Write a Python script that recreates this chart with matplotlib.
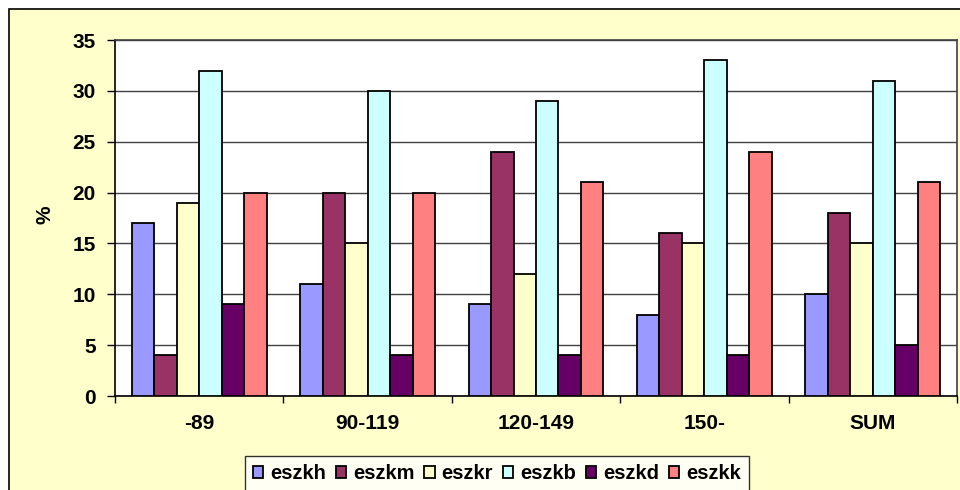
import matplotlib.pyplot as plt
import matplotlib.patches as mpatches
import numpy as np

plt.rcParams["font.family"] = ["Liberation Sans", "DejaVu Sans"]
plt.rcParams["font.weight"] = "bold"

categories = ["-89", "90-119", "120-149", "150-", "SUM"]
series_names = ["eszkh", "eszkm", "eszkr", "eszkb", "eszkd", "eszkk"]
eszkh = [17, 11, 9, 8, 10]
eszkm = [4, 20, 24, 16, 18]
eszkr = [19, 15, 12, 15, 15]
eszkb = [32, 30, 29, 33, 31]
eszkd = [9, 4, 4, 4, 5]
eszkk = [20, 20, 21, 24, 21]
series = [eszkh, eszkm, eszkr, eszkb, eszkd, eszkk]
colors = ["#9999FF", "#993366", "#FFFFCC", "#CCFFFF", "#660066", "#FF8080"]

W, H = 960, 490
fig = plt.figure(figsize=(W / 100, H / 100), dpi=100)
fig.patch.set_facecolor("white")

# outer chart frame
frame = mpatches.Rectangle(
    (9 / W, -0.05), 1.1, 1 - 9 / H + 0.05,
    transform=fig.transFigure, facecolor="#FFFFCC", edgecolor="black",
    linewidth=1.2, zorder=-10,
)
fig.patches.append(frame)

left, right, top, bottom = 115, 957, 40, 396
ax = fig.add_axes([left / W, 1 - bottom / H, (right - left) / W, (bottom - top) / H])
ax.set_facecolor("white")

n = len(series)
gap = 1.5
width = 1.0 / (n + gap)
x = np.arange(len(categories))
for i, (name, vals, c) in enumerate(zip(series_names, series, colors)):
    offs = -0.5 + width * gap / 2 + width * i + width / 2
    ax.bar(x + offs, vals, width, color=c, edgecolor="black", linewidth=1.3,
           label=name, zorder=3)

ax.set_xlim(-0.5, len(categories) - 0.5)
ax.set_ylim(0, 35)
ax.set_yticks(np.arange(0, 36, 5))
ax.yaxis.grid(True, color="#404040", linewidth=1.0, zorder=0)
ax.set_xticks(x)
ax.set_xticklabels(categories, fontsize=15, fontweight="bold")
ax.set_xticks(np.arange(-0.5, len(categories), 1), minor=True)
ax.tick_params(axis="x", which="major", length=0, pad=13)
ax.tick_params(axis="x", which="minor", length=5, width=1, direction="out")
ax.tick_params(axis="y", length=6, width=1, direction="out", labelsize=15, pad=8)
for lab in ax.get_yticklabels():
    lab.set_fontweight("bold")

for s in ["left", "bottom"]:
    ax.spines[s].set_color("black")
    ax.spines[s].set_linewidth(1.2)
for s in ["top", "right"]:
    ax.spines[s].set_color("#404040")
    ax.spines[s].set_linewidth(1.2)

fig.text(45 / W, 1 - 215 / H, "%", rotation=90, ha="center", va="center",
         fontsize=15, fontweight="bold")

leg = fig.legend(
    loc="upper center", bbox_to_anchor=(497 / W, 1 - 456 / H), ncol=6,
    fontsize=14.5, frameon=True, fancybox=False, edgecolor="black",
    handlelength=0.5, handleheight=0.5, handletextpad=0.35, columnspacing=0.5,
    borderpad=0.4, borderaxespad=0,
)
leg.get_frame().set_linewidth(1.0)
for t in leg.get_texts():
    t.set_fontweight("bold")

fig.savefig("out.png", dpi=100)
